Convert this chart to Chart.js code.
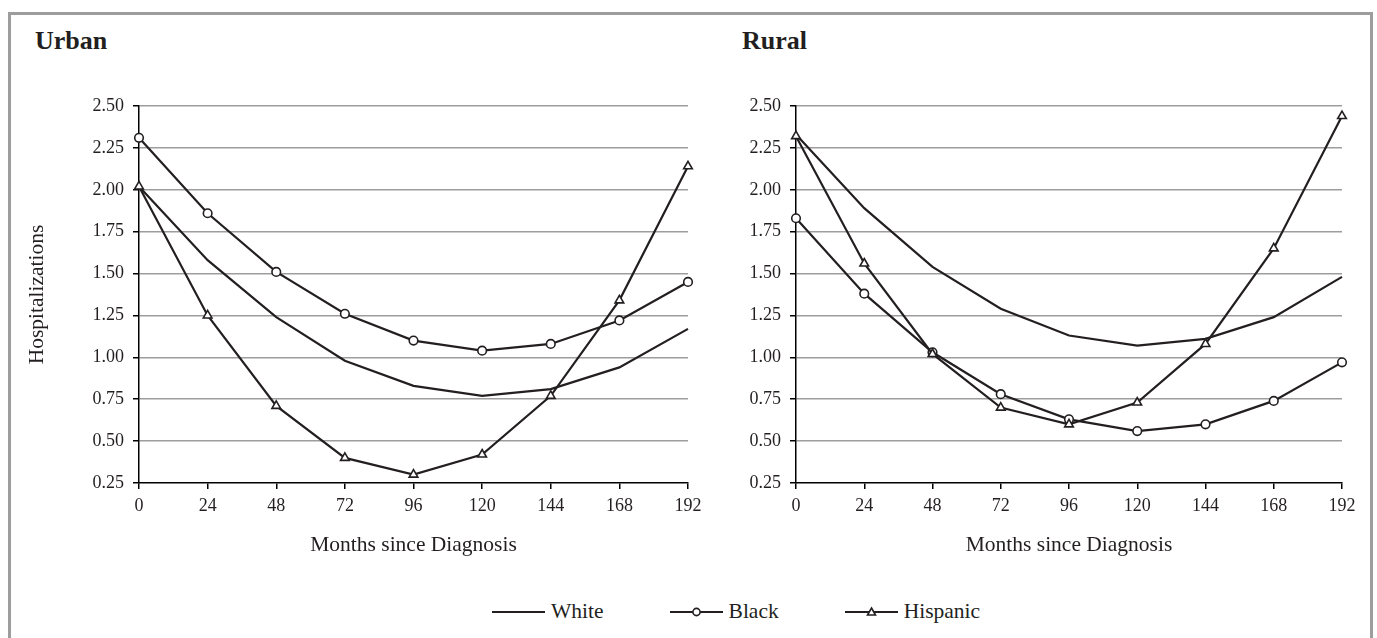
<!DOCTYPE html>
<html>
<head>
<meta charset="utf-8">
<script src="https://cdn.jsdelivr.net/npm/chart.js@4"></script>
<style>
  body { margin: 0; background: #fff; width: 1377px; height: 638px; overflow: hidden; position: relative;
         font-family: "Liberation Serif", "Times New Roman", serif; color: #231f20; }
  #frame { position: absolute; left: 8px; top: 12px; width: 1365px; height: 700px;
           border: 3px solid #9d9d9d; box-sizing: border-box; }
  .panel-title { position: absolute; top: 28px; font-weight: bold; font-size: 26px; line-height: 1; }
  .box { position: absolute; top: 60px; }
  #legend { position: absolute; left: 492px; top: 601px; display: flex; align-items: center;
            font-size: 21.5px; line-height: 1; }
  .item { display: flex; align-items: center; margin-right: 66px; }
  .item svg { margin-right: 6px; }
</style>
</head>
<body>
<div id="frame"></div>
<div class="panel-title" style="left:35px">Urban</div>
<div class="panel-title" style="left:742px">Rural</div>
<div class="box" style="left:10px"><canvas id="urbanChart" width="700" height="500"></canvas></div>
<div class="box" style="left:690px"><canvas id="ruralChart" width="680" height="500"></canvas></div>
<div id="legend">
  <div class="item"><svg width="53" height="12"><line x1="0" y1="6" x2="53" y2="6" stroke="#231f20" stroke-width="2.2"/></svg>White</div>
  <div class="item"><svg width="53" height="12"><line x1="0" y1="6" x2="53" y2="6" stroke="#231f20" stroke-width="2.2"/><circle cx="26.5" cy="6" r="3.6" fill="#fff" stroke="#231f20" stroke-width="1.6"/></svg>Black</div>
  <div class="item"><svg width="53" height="12"><line x1="0" y1="6" x2="53" y2="6" stroke="#231f20" stroke-width="2.2"/><polygon points="26.5,2 30.5,9 22.5,9" fill="#fff" stroke="#231f20" stroke-width="1.6"/></svg>Hispanic</div>
</div>
<script>
const months = [0, 24, 48, 72, 96, 120, 144, 168, 192];

const urbanWhite    = [2.02, 1.58, 1.24, 0.98, 0.83, 0.77, 0.81, 0.94, 1.17];
const urbanBlack    = [2.31, 1.86, 1.51, 1.26, 1.10, 1.04, 1.08, 1.22, 1.45];
const urbanHispanic = [2.02, 1.25, 0.71, 0.40, 0.30, 0.42, 0.77, 1.34, 2.14];

const ruralWhite    = [2.33, 1.89, 1.54, 1.29, 1.13, 1.07, 1.11, 1.24, 1.48];
const ruralBlack    = [1.83, 1.38, 1.03, 0.78, 0.63, 0.56, 0.60, 0.74, 0.97];
const ruralHispanic = [2.32, 1.56, 1.02, 0.70, 0.60, 0.73, 1.08, 1.65, 2.44];

const yMin = 0.25, yMax = 2.5, yStep = 0.25;
const xTitle = "Months since Diagnosis";
const yTitle = "Hospitalizations";

const ink = "#231f20";
const gridGray = "#9d9d9d";

Chart.defaults.font.family = '"Liberation Serif", "Times New Roman", serif';
Chart.defaults.color = ink;

function series(label, values, style, order) {
  return {
    label: label,
    data: months.map((m, i) => ({ x: m, y: values[i] })),
    borderColor: ink,
    borderWidth: 2.2,
    backgroundColor: "#fff",
    pointStyle: style || "circle",
    pointRadius: style ? (style === "triangle" ? 5 : 4.3) : 0,
    pointBorderWidth: 1.6,
    pointBackgroundColor: "#fff",
    pointBorderColor: ink,
    tension: 0,
    clip: false,
    order: order
  };
}

function buildChart(id, white, black, hispanic, showYTitle, yWidth, padRight) {
  return new Chart(document.getElementById(id), {
    type: "line",
    data: {
      datasets: [
        series("White", white, null, 3),
        series("Black", black, "circle", 2),
        series("Hispanic", hispanic, "triangle", 1)
      ]
    },
    options: {
      responsive: false,
      animation: false,
      layout: { padding: { top: 46, right: padRight, bottom: 0, left: 0 } },
      plugins: { legend: { display: false }, tooltip: { enabled: false } },
      scales: {
        x: {
          type: "linear",
          min: 0,
          max: 192,
          afterFit: s => { s.height = 77; },
          ticks: { stepSize: 24, padding: 6, font: { size: 18 }, color: ink },
          grid: { drawOnChartArea: false, tickLength: 6, tickColor: "#000", tickWidth: 1.5, lineWidth: 1.5 },
          border: { color: "#000", width: 1.5 },
          title: { display: true, text: xTitle, font: { size: 21.5 }, color: ink, padding: { top: 0, bottom: 2 } }
        },
        y: {
          min: yMin,
          max: yMax,
          afterFit: s => { s.width = yWidth; },
          ticks: { stepSize: yStep, padding: 9, font: { size: 18 }, color: ink, callback: v => v.toFixed(2) },
          grid: {
            color: c => (c.tick && c.tick.value === yMin) ? "rgba(0,0,0,0)" : gridGray,
            lineWidth: 1.5, tickLength: 6, tickColor: "#000", tickWidth: 1.5
          },
          border: { color: "#000", width: 1.5 },
          title: { display: showYTitle, text: yTitle, font: { size: 21.5 }, color: ink, padding: { top: 14, bottom: 0 } }
        }
      }
    }
  });
}

buildChart("urbanChart", urbanWhite, urbanBlack, urbanHispanic, true, 129, 22);
buildChart("ruralChart", ruralWhite, ruralBlack, ruralHispanic, false, 106, 28);
</script>
</body>
</html>
